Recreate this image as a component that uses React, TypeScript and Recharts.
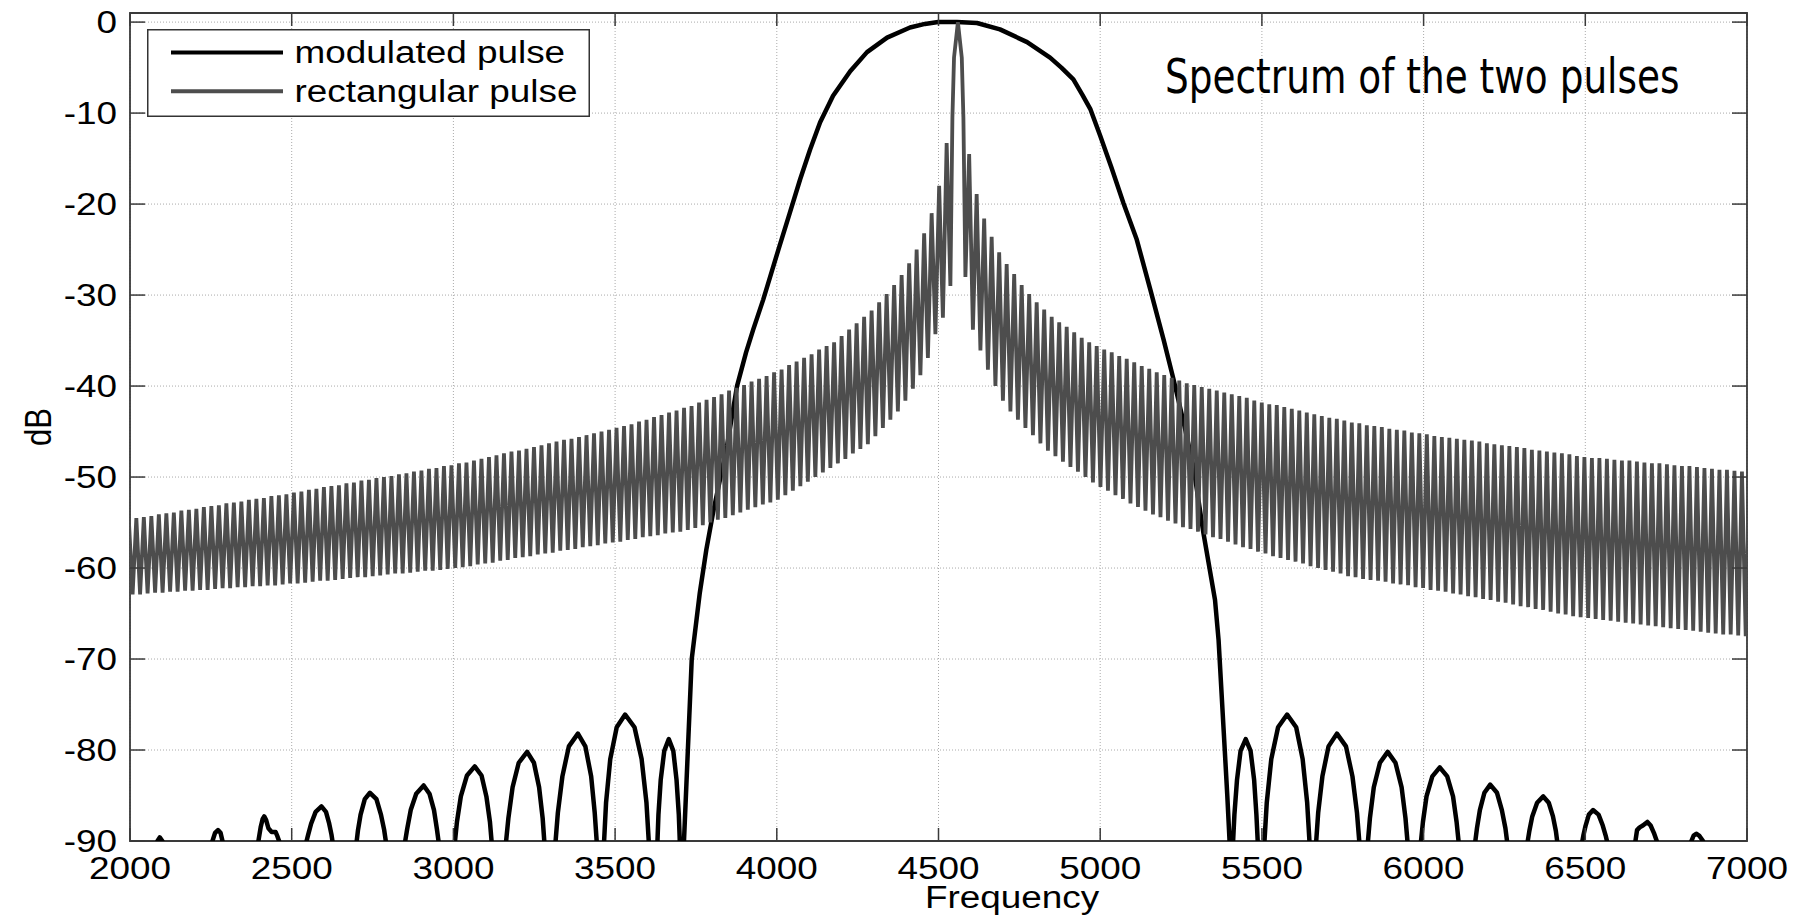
import { LineChart, Line, XAxis, YAxis, CartesianGrid, Legend, ReferenceArea } from "recharts";

// ---- axes ----
const freqTicks = [2000, 2500, 3000, 3500, 4000, 4500, 5000, 5500, 6000, 6500, 7000];
const dbTicks = [0, -10, -20, -30, -40, -50, -60, -70, -80, -90];

// ---- rectangular pulse: sinc lobes ----
// lobe grid of the sinc (Hz); peaks sit half way between nulls
const rectCentreHz = 4560;
const rectLobeHz = 23.2;

// main lobe [Hz, dB]
const rectMainLobe: [number, number][] = [
  [4543, -10.5], [4548, -3.9], [4560, 0], [4572, -3.9], [4577, -10.5],
];

// sidelobe tops / sampled nulls, going outward from the main lobe
const rectPeaksLeft = [
  -13.3, -18.0, -21.0, -23.2, -25.0, -26.5, -27.8, -28.9, -29.9, -30.8,
  -31.7, -32.4, -33.1, -33.8, -34.5, -35.2, -35.6, -36.0, -36.5, -36.9,
  -37.3, -37.7, -38.2, -38.5, -38.9, -39.2, -39.5, -39.9, -40.2, -40.5,
  -40.9, -41.2, -41.5, -41.8, -42.2, -42.4, -42.7, -42.9, -43.2, -43.4,
  -43.7, -43.9, -44.2, -44.4, -44.6, -44.8, -45.0, -45.2, -45.4, -45.6,
  -45.8, -45.9, -46.1, -46.3, -46.5, -46.7, -46.9, -47.1, -47.2, -47.4,
  -47.6, -47.8, -48.0, -48.2, -48.4, -48.5, -48.7, -48.8, -49.0, -49.1,
  -49.3, -49.4, -49.6, -49.7, -49.9, -50.0, -50.1, -50.3, -50.4, -50.6,
  -50.7, -50.9, -51.0, -51.1, -51.3, -51.4, -51.6, -51.7, -51.9, -52.0,
  -52.1, -52.3, -52.4, -52.5, -52.7, -52.8, -52.9, -53.1, -53.2, -53.3,
  -53.5, -53.6, -53.7, -53.9, -54.0, -54.1, -54.3, -54.4, -54.5, -54.7,
];
const rectDipsLeft = [
  -29.0, -32.5, -34.3, -36.9, -38.8, -40.3, -41.6, -42.8, -43.7, -44.6,
  -45.5, -46.4, -46.9, -47.4, -48.0, -48.5, -49.0, -49.5, -50.0, -50.5,
  -51.0, -51.5, -52.0, -52.5, -52.8, -53.0, -53.3, -53.6, -53.9, -54.2,
  -54.5, -54.7, -55.0, -55.3, -55.6, -55.8, -56.0, -56.1, -56.2, -56.4,
  -56.5, -56.6, -56.8, -56.9, -57.1, -57.2, -57.3, -57.5, -57.6, -57.7,
  -57.9, -58.0, -58.1, -58.3, -58.4, -58.5, -58.7, -58.8, -58.9, -59.1,
  -59.2, -59.4, -59.5, -59.6, -59.8, -59.9, -60.0, -60.1, -60.2, -60.3,
  -60.3, -60.4, -60.5, -60.6, -60.6, -60.7, -60.8, -60.9, -61.0, -61.0,
  -61.1, -61.2, -61.3, -61.4, -61.4, -61.5, -61.6, -61.7, -61.7, -61.8,
  -61.9, -61.9, -62.0, -62.0, -62.1, -62.1, -62.2, -62.2, -62.3, -62.4,
  -62.4, -62.5, -62.5, -62.6, -62.6, -62.7, -62.7, -62.8, -62.9, -62.9,
];
const rectPeaksRight = [
  -14.5, -18.9, -21.6, -23.6, -25.3, -26.6, -27.7, -28.9, -29.9, -30.8,
  -31.6, -32.4, -33.0, -33.5, -34.1, -34.7, -35.2, -35.6, -36.0, -36.3,
  -36.7, -37.0, -37.4, -37.8, -38.1, -38.5, -38.8, -39.1, -39.4, -39.7,
  -39.9, -40.1, -40.3, -40.5, -40.7, -40.9, -41.1, -41.3, -41.6, -41.8,
  -42.0, -42.1, -42.3, -42.5, -42.7, -42.9, -43.1, -43.3, -43.5, -43.6,
  -43.8, -44.0, -44.1, -44.3, -44.4, -44.5, -44.7, -44.8, -44.9, -45.1,
  -45.2, -45.3, -45.5, -45.6, -45.7, -45.8, -45.9, -46.0, -46.1, -46.3,
  -46.4, -46.5, -46.6, -46.7, -46.8, -47.0, -47.1, -47.2, -47.3, -47.4,
  -47.5, -47.7, -47.8, -47.9, -47.9, -48.0, -48.1, -48.2, -48.2, -48.3,
  -48.4, -48.5, -48.5, -48.6, -48.7, -48.8, -48.8, -48.9, -49.0, -49.1,
  -49.2, -49.2, -49.3, -49.4, -49.5, -49.5,
];
const rectDipsRight = [
  -28.0, -33.8, -36.1, -38.2, -40.0, -41.6, -42.8, -43.7, -44.6, -45.4,
  -46.3, -47.1, -47.7, -48.3, -48.9, -49.4, -50.0, -50.6, -51.1, -51.5,
  -52.0, -52.4, -52.9, -53.3, -53.7, -54.1, -54.4, -54.8, -55.1, -55.5,
  -55.7, -56.0, -56.3, -56.6, -56.8, -57.1, -57.4, -57.7, -57.9, -58.2,
  -58.4, -58.7, -58.9, -59.1, -59.3, -59.5, -59.8, -60.0, -60.2, -60.4,
  -60.6, -60.9, -61.0, -61.2, -61.3, -61.4, -61.5, -61.7, -61.8, -61.9,
  -62.1, -62.2, -62.4, -62.5, -62.6, -62.8, -62.9, -63.1, -63.2, -63.4,
  -63.5, -63.7, -63.8, -64.0, -64.2, -64.3, -64.5, -64.6, -64.8, -65.0,
  -65.1, -65.3, -65.4, -65.5, -65.6, -65.7, -65.8, -65.9, -66.0, -66.1,
  -66.2, -66.3, -66.4, -66.5, -66.6, -66.7, -66.8, -66.9, -67.0, -67.1,
  -67.2, -67.3, -67.3, -67.4, -67.5, -67.6,
];

// ---- modulated pulse [Hz, dB]; -125 marks the nulls below the axis ----
const modulatedPulse: [number, number][] = [
  [2000, -125],
  [2085, -90], [2092, -89.6], [2100, -90],
  [2170, -125],
  [2255, -90], [2263, -89.1], [2272, -88.8], [2280, -89.1], [2286, -90],
  [2341, -125],
  [2397, -90], [2404, -88.5], [2410, -87.6], [2415, -87.3], [2421, -87.7], [2428, -88.6], [2438, -89.0], [2450, -89.0], [2456, -89.5], [2461, -90],
  [2503, -125],
  [2546, -90], [2551, -89.3], [2560, -88.1], [2574, -86.8], [2592, -86.2], [2606, -86.8], [2616, -88.1], [2623, -89.3], [2626, -90],
  [2663, -125],
  [2701, -90], [2705, -88.8], [2713, -87.1], [2726, -85.4], [2742, -84.7], [2762, -85.4], [2776, -87.1], [2786, -88.8], [2791, -90],
  [2821, -125],
  [2851, -90], [2857, -88.7], [2868, -86.6], [2885, -84.8], [2908, -83.9], [2926, -84.8], [2940, -86.6], [2949, -88.7], [2954, -90],
  [2979, -125],
  [3005, -90], [3011, -87.9], [3023, -85.1], [3042, -82.8], [3066, -81.8], [3087, -82.8], [3102, -85.1], [3113, -87.9], [3118, -90],
  [3140, -125],
  [3163, -90], [3170, -87.5], [3183, -84.1], [3202, -81.4], [3228, -80.2], [3249, -81.4], [3265, -84.1], [3276, -87.5], [3281, -90],
  [3298, -125],
  [3316, -90], [3323, -86.9], [3337, -82.9], [3357, -79.6], [3385, -78.2], [3408, -79.6], [3426, -82.9], [3437, -86.9], [3443, -90],
  [3454, -125],
  [3466, -90], [3472, -85.8], [3485, -81.0], [3505, -77.5], [3531, -76.1], [3560, -77.5], [3582, -81.0], [3597, -85.8], [3604, -90],
  [3617, -125],
  [3631, -90], [3634, -87.1], [3641, -83.3], [3652, -80.1], [3666, -78.8], [3680, -80.1], [3690, -83.3], [3697, -87.1], [3700, -90],
  [3706, -125],
  [3713, -90], [3725, -80], [3737, -70], [3762, -62.7], [3782, -58], [3803, -53.9], [3826, -50], [3846, -46.6],
  [3877, -40.0], [3905, -36.3], [3927, -33.8], [3958, -30.5], [4005, -25], [4040, -21], [4072, -17.3], [4103, -14],
  [4134, -11.0], [4174, -8.1], [4227, -5.4], [4279, -3.3], [4341, -1.7], [4412, -0.6], [4458, -0.2], [4499, 0],
  [4557, 0], [4619, -0.1], [4690, -0.8], [4774, -2.2], [4845, -3.9], [4880, -5.0], [4917, -6.3], [4945, -8.0],
  [4970, -9.6], [5000, -12.5], [5035, -16], [5072, -19.9], [5113, -23.9], [5155, -29.4], [5196, -34.9], [5227, -39.3],
  [5258, -44], [5288, -48.8], [5319, -56.1], [5355, -63.5], [5366, -67.9], [5382, -78], [5393, -85], [5400, -90],
  [5404, -125],
  [5411, -90], [5415, -87.1], [5423, -83.3], [5434, -80.1], [5450, -78.8], [5465, -80.1], [5476, -83.3], [5483, -87.1], [5487, -90],
  [5498, -125],
  [5508, -90], [5515, -85.8], [5529, -81.0], [5550, -77.5], [5578, -76.1], [5606, -77.5], [5626, -81.0], [5640, -85.8], [5647, -90],
  [5658, -125],
  [5668, -90], [5674, -86.9], [5687, -82.9], [5706, -79.6], [5732, -78.2], [5760, -79.6], [5780, -82.9], [5794, -86.9], [5801, -90],
  [5815, -125],
  [5828, -90], [5834, -87.5], [5846, -84.1], [5865, -81.4], [5889, -80.2], [5913, -81.4], [5932, -84.1], [5944, -87.5], [5950, -90],
  [5971, -125],
  [5992, -90], [5998, -87.9], [6009, -85.1], [6027, -82.9], [6050, -81.9], [6073, -82.9], [6091, -85.1], [6102, -87.9], [6108, -90],
  [6134, -125],
  [6160, -90], [6165, -88.6], [6174, -86.6], [6188, -84.7], [6206, -83.8], [6227, -84.7], [6242, -86.6], [6253, -88.6], [6258, -90],
  [6290, -125],
  [6322, -90], [6327, -88.9], [6336, -87.3], [6351, -85.8], [6370, -85.1], [6387, -85.8], [6400, -87.3], [6409, -88.9], [6413, -90],
  [6452, -125],
  [6491, -90], [6494, -89.4], [6501, -88.3], [6511, -87.1], [6524, -86.6], [6541, -87.1], [6554, -88.3], [6563, -89.4], [6567, -90],
  [6611, -125],
  [6655, -90], [6660, -88.8], [6668, -88.5], [6678, -88.3], [6692, -87.9], [6702, -88.3], [6712, -89.1], [6721, -90],
  [6775, -125],
  [6828, -90], [6835, -89.4], [6843, -89.2], [6852, -89.4], [6864, -90],
  [6930, -125], [7000, -125],
];

// ---- build series ----
const rectData: { f: number; db: number }[] = [];
for (let k = rectPeaksLeft.length; k >= 1; k--) {
  rectData.push({ f: rectCentreHz - (k + 0.5) * rectLobeHz, db: rectPeaksLeft[k - 1] });
  rectData.push({ f: rectCentreHz - k * rectLobeHz, db: rectDipsLeft[k - 1] });
}
rectMainLobe.forEach(([f, db]) => rectData.push({ f, db }));
for (let k = 1; k <= rectPeaksRight.length; k++) {
  rectData.push({ f: rectCentreHz + k * rectLobeHz, db: rectDipsRight[k - 1] });
  rectData.push({ f: rectCentreHz + (k + 0.5) * rectLobeHz, db: rectPeaksRight[k - 1] });
}
const modData = modulatedPulse.map(([f, db]) => ({ f, db }));

// ---- layout ----
const W = 1806;
const H = 918;
const PLOT_LEFT = 130;
const PLOT_RIGHT = 1747;
const PLOT_TOP = 13;
const PLOT_BOTTOM = 841;
const Y_AXIS_W = 80;
const X_AXIS_H = 50;
const AXIS = "#3a3a3a";
const FONT = "'Liberation Sans', Arial, Helvetica, sans-serif";
const STRETCH = 1.19; // the figure is a bit wider than tall
const GRAY = "#4d4d4d";

function FreqTick({ x, payload }: any) {
  return (
    <g>
      <line x1={x} x2={x} y1={PLOT_BOTTOM} y2={PLOT_BOTTOM - 13} stroke={AXIS} strokeWidth={1.5} />
      <line x1={x} x2={x} y1={PLOT_TOP} y2={PLOT_TOP + 13} stroke={AXIS} strokeWidth={1.5} />
      <text
        transform={`translate(${x},879) scale(${STRETCH},1)`}
        textAnchor="middle"
        fontFamily={FONT}
        fontSize={31}
        fill="#000"
      >
        {payload.value}
      </text>
    </g>
  );
}

function DbTick({ y, payload }: any) {
  return (
    <g>
      <line x1={PLOT_LEFT} x2={PLOT_LEFT + 15} y1={y} y2={y} stroke={AXIS} strokeWidth={1.5} />
      <line x1={PLOT_RIGHT} x2={PLOT_RIGHT - 15} y1={y} y2={y} stroke={AXIS} strokeWidth={1.5} />
      <text
        transform={`translate(117,${y + 11}) scale(${STRETCH},1)`}
        textAnchor="end"
        fontFamily={FONT}
        fontSize={31}
        fill="#000"
      >
        {payload.value}
      </text>
    </g>
  );
}

function LegendBox({ payload }: any) {
  const items = payload || [];
  return (
    <svg width={443} height={88} style={{ display: "block" }}>
      <rect x={0.75} y={0.75} width={441.5} height={86.5} fill="#fff" stroke="#333" strokeWidth={1.5} />
      {items.map((entry: any, i: number) => (
        <g key={entry.value}>
          <line
            x1={24}
            x2={136}
            y1={23.5 + i * 38.7}
            y2={23.5 + i * 38.7}
            stroke={entry.color}
            strokeWidth={4}
          />
          <text
            transform={`translate(147.5,${34 + i * 38.7}) scale(${STRETCH},1)`}
            fontFamily={FONT}
            fontSize={31}
            fill="#000"
          >
            {entry.value}
          </text>
        </g>
      ))}
    </svg>
  );
}

export default function App() {
  return (
    <div style={{ position: "absolute", left: 0, top: 0, width: W, height: H, background: "#fff" }}>
      <LineChart
        width={W}
        height={H}
        margin={{
          top: PLOT_TOP,
          right: W - PLOT_RIGHT,
          left: PLOT_LEFT - Y_AXIS_W,
          bottom: H - PLOT_BOTTOM - X_AXIS_H,
        }}
      >
        <CartesianGrid stroke="#aaa" strokeDasharray="1 2" />
        <XAxis
          dataKey="f"
          type="number"
          domain={[2000, 7000]}
          ticks={freqTicks}
          allowDataOverflow
          axisLine={false}
          tickLine={false}
          tick={FreqTick}
          height={X_AXIS_H}
        />
        <YAxis
          type="number"
          domain={[-90, 1]}
          ticks={dbTicks}
          allowDataOverflow
          axisLine={false}
          tickLine={false}
          tick={DbTick}
          width={Y_AXIS_W}
        />
        <ReferenceArea x1={2000} x2={7000} y1={-90} y2={1} fill="none" stroke={AXIS} strokeWidth={1.8} />
        <Legend
          layout="vertical"
          align="center"
          verticalAlign="middle"
          wrapperStyle={{ left: 147, top: 29, width: 443, height: 88 }}
          content={(props: any) => <LegendBox payload={props.payload} />}
        />
        <Line
          data={modData}
          dataKey="db"
          name="modulated pulse"
          type="linear"
          stroke="#000"
          strokeWidth={4.5}
          strokeLinejoin="round"
          dot={false}
          activeDot={false}
          isAnimationActive={false}
        />
        <Line
          data={rectData}
          dataKey="db"
          name="rectangular pulse"
          type="linear"
          stroke={GRAY}
          strokeWidth={3.8}
          strokeLinejoin="bevel"
          dot={false}
          activeDot={false}
          isAnimationActive={false}
        />
      </LineChart>
      <svg width={W} height={H} style={{ position: "absolute", left: 0, top: 0, pointerEvents: "none" }}>
        <text
          transform="translate(1165,93) scale(0.78,1)"
          fontFamily="'DejaVu Sans', Verdana, sans-serif"
          fontSize={48}
          fill="#000"
        >
          Spectrum of the two pulses
        </text>
        <text
          transform={`translate(1012,908) scale(${STRETCH},1)`}
          textAnchor="middle"
          fontFamily={FONT}
          fontSize={31}
          fill="#000"
        >
          Frequency
        </text>
        <text
          transform={`translate(51,427) scale(${STRETCH},1) rotate(-90)`}
          textAnchor="middle"
          fontFamily={FONT}
          fontSize={31}
          fill="#000"
        >
          dB
        </text>
      </svg>
    </div>
  );
}
